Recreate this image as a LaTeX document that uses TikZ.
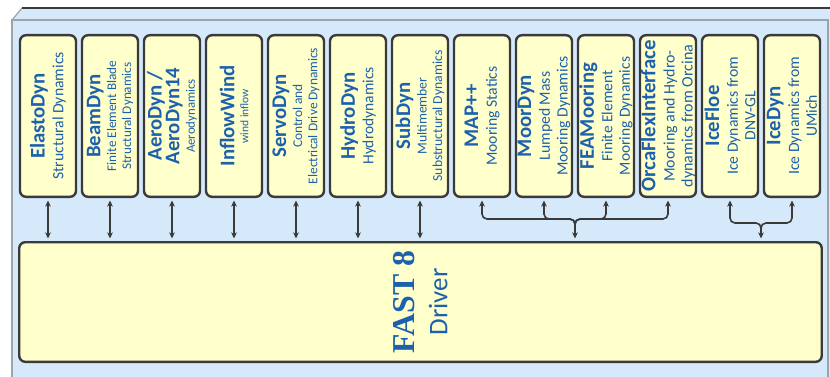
\documentclass[tikz,border=0pt]{standalone}
\usepackage{fontspec}
\setmainfont{Carlito}
\newfontfamily\fastserif{Liberation Serif}
\usetikzlibrary{arrows.meta,calc}
\definecolor{fastink}{HTML}{3A3A3A}
\definecolor{fastblue}{HTML}{1C61AE}
\definecolor{fastpanel}{HTML}{FFFFCC}
\definecolor{fastsky}{HTML}{D5E9FB}
\definecolor{fastrim}{HTML}{9CA3AA}
\newcommand\tfont{\fontsize{20.8}{22}\selectfont\bfseries}
\tikzset{
  mod/.style={draw=fastink, fill=fastpanel, line width=2.4pt, rounded corners=6pt, minimum width=56pt, minimum height=161.6pt, inner sep=0pt},
  modtxt/.style={rotate=90, align=center, text=fastblue, inner sep=0pt},
  arr/.style={-{Stealth[length=6pt,width=5.5pt,inset=1.5pt]}, line width=1.6pt, color=fastink, shorten >=2.5pt},
  arr2/.style={{Stealth[length=6pt,width=5.5pt,inset=1.5pt]}-{Stealth[length=6pt,width=5.5pt,inset=1.5pt]}, line width=1.6pt, color=fastink, shorten >=2.5pt, shorten <=2.5pt},
}

\begin{document}
\begin{tikzpicture}[x=1pt, y=-1pt]
  \useasboundingbox (0,0) rectangle (830,377);
  \clip (0,0) rectangle (830,377);
  % frame (box seen from the front, top face showing)
  \fill[white] (0,0) rectangle (830,377);
  \fill[fastsky] (12,20) -- (22,8) -- (834,8) -- (834,382) -- (12,382) -- cycle;
  \draw[fastrim, line width=1.2pt] (12,382) -- (12,20) -- (828,20) -- (828,382);
  \draw[fastrim, line width=1.2pt] (12,20) -- (22,8);
  \draw[fastink, line width=2pt] (22,8) -- (834,8);

  % modules
  \foreach \i/\nm/\ttl/\sub/\fs in {
      0/elasto/ElastoDyn/{Structural Dynamics}/15.7,
      1/beam/BeamDyn/{Finite Element Blade\\Structural Dynamics}/13.2,
      2/aero/{AeroDyn /\\\tfont AeroDyn14}/Aerodynamics/12.8,
      3/inflow/InflowWind/{wind inflow}/11.5,
      4/servo/ServoDyn/{Control and\\Electrical Drive Dynamics}/13.4,
      5/hydro/HydroDyn/Hydrodynamics/15.5,
      6/subdyn/SubDyn/{Multimember\\Substructural Dynamics}/13.7,
      7/map/MAP++/{Mooring Statics}/15.7,
      8/moor/MoorDyn/{Lumped Mass\\Mooring Dynamics}/15.7,
      9/feam/FEAMooring/{Finite Element\\Mooring Dynamics}/15.5,
      10/orca/OrcaFlexInterface/{Mooring and Hydro-\\dynamics from Orcina}/16,
      11/floe/IceFloe/{Ice Dynamics from\\DNV-GL}/15.7,
      12/icedyn/IceDyn/{Ice Dynamics from\\UMich}/15.7} {
    \node[mod] (\nm) at ({48+62*\i},116) {};
    \node[modtxt, font={\fontsize{\fs}{\fs}\selectfont\baselineskip=1.13em}] (\nm-t) at (\nm) {\tfont\ttl\\[1pt]\sub};
  }

  % driver
  \node[mod, minimum width=802.5pt, minimum height=119.6pt] (fast) at (420.5,302) {};
  \node[modtxt, font={\fontsize{26.9}{33}\selectfont}] (fast-t) at (fast) {\fastserif\fontsize{31.8}{34}\selectfont\bfseries FAST 8\\Driver};

  % links to the driver
  \foreach \nm in {elasto,beam,aero,inflow,servo,hydro,subdyn}
    \draw[arr2] (\nm.south) -- (\nm.south |- fast.north);

  \coordinate (moorjoin) at ($(map.south)!0.5!(orca.south)+(0,27)$);
  \foreach \nm in {map,moor,feam,orca}
    \draw[arr, rounded corners=5pt] (moorjoin) |- ($(\nm.south)+(0,21)$) -- (\nm.south);
  \draw[arr] (moorjoin) -- (moorjoin |- fast.north);

  \coordinate (icejoin) at ($(floe.south)!0.5!(icedyn.south)+(0,32)$);
  \foreach \nm in {floe,icedyn}
    \draw[arr, rounded corners=5pt] (icejoin) |- ($(\nm.south)+(0,25)$) -- (\nm.south);
  \draw[arr] (icejoin) -- (icejoin |- fast.north);
\end{tikzpicture}
\end{document}
